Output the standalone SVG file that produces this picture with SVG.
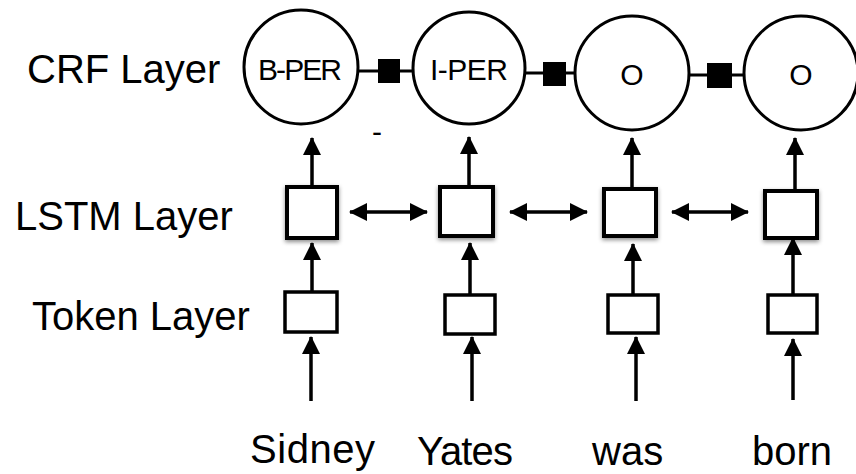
<svg xmlns="http://www.w3.org/2000/svg" width="856" height="474" viewBox="0 0 856 474">
  <style>
    .lbl { font-family: "Liberation Sans", Arial, sans-serif; font-size: 40px; fill: #000; }
    .tag { font-family: "Liberation Sans", Arial, sans-serif; font-size: 30px; fill: #000; text-anchor: middle; }
    .crf { fill: #fff; stroke: #000; stroke-width: 3; }
    .lstm { fill: #fff; stroke: #000; stroke-width: 4; }
    .tok { fill: #fff; stroke: #000; stroke-width: 3.5; }
    .fac { fill: #000; }
    .edge { stroke: #000; stroke-width: 3; fill: none; }
    .arr { stroke: #000; stroke-width: 3.5; fill: none; marker-end: url(#ah); }
    .dbl { stroke: #000; stroke-width: 3.5; fill: none; marker-start: url(#ah); marker-end: url(#ah); }
  </style>
  <defs>
    <marker id="ah" viewBox="0 0 18 18" markerWidth="18" markerHeight="18" markerUnits="userSpaceOnUse" refX="17" refY="9" orient="auto-start-reverse">
      <path d="M0,0 L18,9 L0,18 z" fill="#000"/>
    </marker>
    <filter id="sh" x="-30%" y="-30%" width="160%" height="170%">
      <feDropShadow dx="0" dy="2" stdDeviation="2" flood-color="#000" flood-opacity="0.45"/>
    </filter>
  </defs>
  <rect width="856" height="474" fill="#fff"/>

  <!-- layer labels -->
  <g id="labels">
    <text class="lbl" x="27" y="83">CRF Layer</text>
    <text class="lbl" x="15" y="230">LSTM Layer</text>
    <text class="lbl" x="32" y="330">Token Layer</text>
  </g>

  <!-- connectors -->
  <g id="connectors">
    <!-- CRF chain -->
    <line class="edge" x1="358" y1="71" x2="415" y2="71"/>
    <line class="edge" x1="524" y1="73" x2="577" y2="73"/>
    <line class="edge" x1="688" y1="75" x2="746" y2="75"/>
    <!-- LSTM -> CRF -->
    <line class="arr" x1="312" y1="187" x2="312" y2="138"/>
    <line class="arr" x1="469" y1="187" x2="469" y2="137"/>
    <line class="arr" x1="632" y1="189" x2="632" y2="138"/>
    <line class="arr" x1="795" y1="191" x2="795" y2="138"/>
    <!-- LSTM bidirectional -->
    <line class="dbl" x1="350" y1="212" x2="427" y2="212"/>
    <line class="dbl" x1="510" y1="212" x2="587" y2="212"/>
    <line class="dbl" x1="672" y1="212" x2="748" y2="212"/>
    <!-- Token -> LSTM -->
    <line class="arr" x1="312" y1="298" x2="312" y2="243"/>
    <line class="arr" x1="470" y1="295" x2="470" y2="243"/>
    <line class="arr" x1="633" y1="295" x2="633" y2="244"/>
    <line class="arr" x1="793" y1="295" x2="793" y2="238"/>
    <!-- Words -> Token -->
    <line class="arr" x1="311" y1="401" x2="311" y2="337"/>
    <line class="arr" x1="472" y1="401" x2="472" y2="337"/>
    <line class="arr" x1="636" y1="401" x2="636" y2="337"/>
    <line class="arr" x1="793" y1="400" x2="793" y2="339"/>
  </g>

  <!-- factor squares -->
  <g id="factor1"><rect class="fac" x="378" y="59" width="22" height="24"/></g>
  <g id="factor2"><rect class="fac" x="543" y="62" width="23" height="24"/></g>
  <g id="factor3"><rect class="fac" x="707" y="63" width="25" height="25"/></g>

  <!-- CRF nodes -->
  <g id="crf1"><circle class="crf" cx="301" cy="67" r="57"/><text class="tag" x="300" y="80" textLength="84">B-PER</text></g>
  <g id="crf2"><circle class="crf" cx="469" cy="68" r="56"/><text class="tag" x="469" y="80" textLength="78">I-PER</text></g>
  <g id="crf3"><circle class="crf" cx="632" cy="73" r="57"/><text class="tag" x="632" y="85">O</text></g>
  <g id="crf4"><circle class="crf" cx="801" cy="73" r="57"/><text class="tag" x="801" y="85">O</text></g>
  <text class="tag" x="377" y="142">-</text>

  <!-- LSTM nodes -->
  <g id="lstm1"><rect class="lstm" x="287" y="187" width="50" height="51" filter="url(#sh)"/></g>
  <g id="lstm2"><rect class="lstm" x="440" y="187" width="53" height="49" filter="url(#sh)"/></g>
  <g id="lstm3"><rect class="lstm" x="604" y="189" width="52" height="47" filter="url(#sh)"/></g>
  <g id="lstm4"><rect class="lstm" x="765" y="191" width="52" height="47" filter="url(#sh)"/></g>

  <!-- Token nodes -->
  <g id="tok1"><rect class="tok" x="285" y="292" width="52" height="40"/></g>
  <g id="tok2"><rect class="tok" x="445" y="295" width="50" height="39"/></g>
  <g id="tok3"><rect class="tok" x="608" y="295" width="50" height="38"/></g>
  <g id="tok4"><rect class="tok" x="768" y="295" width="49" height="38"/></g>

  <!-- words -->
  <g id="words">
    <text class="lbl" x="250" y="463" textLength="125">Sidney</text>
    <text class="lbl" x="417" y="465" textLength="96">Yates</text>
    <text class="lbl" x="592" y="465">was</text>
    <text class="lbl" x="752" y="465">born</text>
  </g>
</svg>
